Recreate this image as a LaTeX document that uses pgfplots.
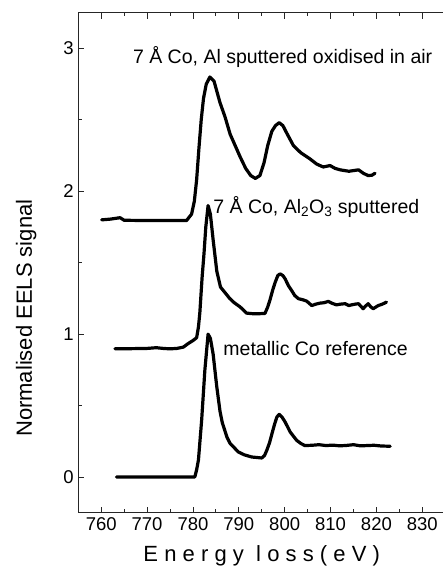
\documentclass[border=0pt]{standalone}
\usepackage{fontspec}
\setmainfont{Liberation Sans}
\usepackage{pgfplots}
\pgfplotsset{compat=1.18}

\pgfplotsset{
  eels/.style={black, line width=3.2pt, line join=round, line cap=round, mark=none},
}

\begin{document}
\begin{tikzpicture}
\begin{axis}[
  name=ax,
  scale only axis,
  width=366.9pt, height=500pt,
  xmin=755, xmax=835, ymin=-0.25, ymax=3.25,
  xtick={760,770,...,830},
  minor x tick num=1,
  ytick={0,1,2,3},
  minor y tick num=1,
  tick align=inside,
  xtick pos=both,
  ytick pos=left,
  major tick length=6pt,
  minor tick length=3.5pt,
  axis line style={line width=0.8pt, black!85},
  tick style={line width=0.8pt, black!85},
  /pgf/number format/assume math mode=true,
  xticklabel={\pgfmathprintnumber{\tick}},
  yticklabel={\pgfmathprintnumber{\tick}},
  xticklabel style={font=\fontsize{18.5}{20}\selectfont, yshift=-1pt},
  yticklabel style={font=\fontsize{18.5}{20}\selectfont, xshift=-1pt},
  every axis x label/.style={at={(axis description cs:0.5,0)}, anchor=center, yshift=-43pt},
  every axis y label/.style={at={(axis description cs:0,0.389)}, xshift=-52pt, rotate=90, anchor=center},
  xlabel={\fontsize{22}{24}\selectfont\addfontfeatures{LetterSpace=28}Energy loss(eV)},
  ylabel={\fontsize{22}{24}\selectfont Normalised EELS signal},
]

% metallic Co reference
\addplot[eels] coordinates {
(763.3,0) (770,0) (775,0) (780.4,0) (780.8,0.05) (781.2,0.12) (781.9,0.40)
(782.6,0.75) (783.3,1.00) (783.8,0.97) (784.4,0.86) (785.2,0.63) (785.9,0.46)
(786.4,0.38) (787.4,0.28) (788.1,0.235) (789.9,0.175) (791.2,0.155) (792.8,0.14)
(795.0,0.133) (795.6,0.15) (796.1,0.187) (796.7,0.24) (797.2,0.30) (797.8,0.37)
(798.3,0.42) (798.8,0.438) (799.4,0.42) (800.1,0.385) (801.2,0.315) (802.6,0.257)
(803.5,0.235) (804.4,0.22) (806,0.222) (807.5,0.226) (809,0.22) (810.5,0.223)
(812,0.218) (813.5,0.221) (815,0.226) (816.5,0.218) (818,0.22) (819.5,0.222)
(821,0.217) (823,0.215)
};

% 7 A Co, Al2O3 sputtered
\addplot[eels] coordinates {
(763.0,0.898) (766,0.898) (770,0.900) (772,0.905) (773.5,0.900) (775,0.897)
(776.5,0.900) (777.9,0.909) (779.0,0.935) (780.0,0.955) (780.8,0.975)
(781.2,1.05) (781.5,1.15) (782.0,1.40) (782.4,1.56) (782.8,1.75) (783.3,1.90)
(783.8,1.84) (784.4,1.66) (785.2,1.44) (786.0,1.33) (787.0,1.29) (788.0,1.25)
(789.0,1.22) (790.3,1.19) (791.7,1.147) (793.0,1.143) (794.5,1.143) (795.7,1.145)
(796.3,1.19) (796.8,1.24) (797.4,1.31) (797.9,1.36) (798.5,1.41) (799.0,1.422)
(799.6,1.41) (800.1,1.387) (800.8,1.34) (801.5,1.306) (802.2,1.27) (803.0,1.248)
(804.0,1.24) (804.8,1.231) (805.9,1.20) (806.8,1.21) (807.7,1.217) (808.6,1.22)
(809.5,1.229) (810.4,1.215) (811.3,1.205) (812.2,1.21) (813.2,1.213) (814.0,1.20)
(814.6,1.205) (815.4,1.21) (816.1,1.213) (817.1,1.178) (817.6,1.195) (818.2,1.213)
(818.8,1.19) (819.3,1.178) (820.4,1.20) (821.3,1.21) (822.2,1.224)
};

% 7 A Co, Al sputtered oxidised in air
\addplot[eels] coordinates {
(760.1,1.800) (762.0,1.805) (764.1,1.815) (765.0,1.797) (770,1.795) (775,1.795)
(778.6,1.795) (779.7,1.84) (780.3,1.93) (780.8,2.08) (781.3,2.30) (781.8,2.50)
(782.3,2.65) (782.9,2.75) (783.7,2.80) (784.6,2.77) (785.9,2.62) (787.0,2.52)
(788.1,2.40) (789.2,2.32) (790.3,2.24) (791.5,2.16) (792.6,2.11) (793.6,2.09)
(794.6,2.11) (795.5,2.20) (796.3,2.32) (797.2,2.42) (798.0,2.46) (798.8,2.48)
(799.6,2.46) (800.4,2.41) (801.9,2.32) (803.5,2.27) (805.5,2.227) (807.0,2.19)
(808.4,2.17) (809.9,2.18) (811.0,2.16) (812.1,2.15) (814.0,2.14) (816.1,2.15)
(817.2,2.125) (818.2,2.11) (819.0,2.112) (819.7,2.126)
};

\node[anchor=base west, inner sep=0pt, font=\fontsize{19.5}{21}\selectfont]
  at (axis cs:766.9,2.891) {7 Å Co, Al sputtered oxidised in air};
\node[anchor=base west, inner sep=0pt, font=\fontsize{19.5}{21}\selectfont]
  at (axis cs:784.4,1.842) {7 Å Co, Al\textsubscript{2}O\textsubscript{3} sputtered};
\node[anchor=base west, inner sep=0pt, font=\fontsize{19.5}{21}\selectfont]
  at (axis cs:786.6,0.851) {metallic Co reference};
\end{axis}
\pgfresetboundingbox
\path[use as bounding box] ([xshift=-78.3pt,yshift=-64.3pt]ax.south west)
  rectangle ([xshift=363.7pt,yshift=12.7pt]ax.north west);
\end{tikzpicture}
\end{document}
